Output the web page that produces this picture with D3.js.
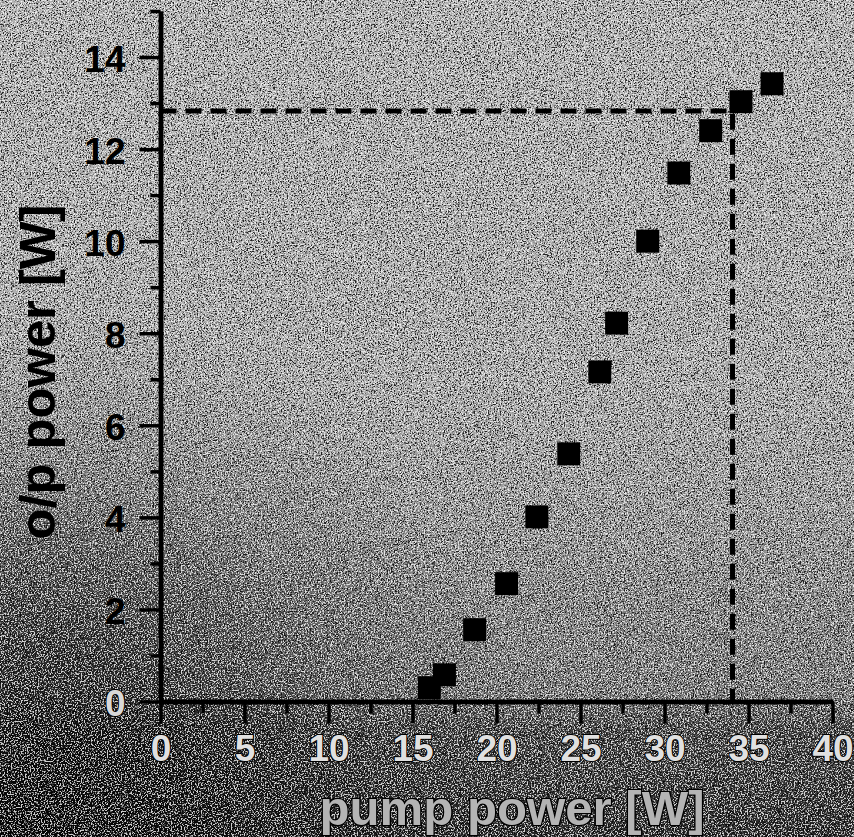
<!DOCTYPE html>
<html>
<head>
<script src="https://cdn.jsdelivr.net/npm/d3@7"></script>
<style>
  body { margin: 0; background: #999; }
  svg text { font-family: "Liberation Sans", Arial, sans-serif; font-weight: bold; }
</style>
</head>
<body>
<script>
// values
const pumpPower  = [16.0, 16.9, 18.7, 20.6, 22.4, 24.3, 26.15, 27.15, 29.0, 30.85, 32.75, 34.55, 36.4];
const outputPower = [0.30, 0.58, 1.56, 2.56, 4.01, 5.38, 7.16, 8.22, 10.0, 11.48, 12.4, 13.03, 13.42];
const xMajor = [0, 5, 10, 15, 20, 25, 30, 35, 40];
const xMinor = [2.5, 7.5, 12.5, 17.5, 22.5, 27.5, 32.5, 37.5];
const yMajor = [0, 2, 4, 6, 8, 10, 12, 14];
const yMinor = [1, 3, 5, 7, 9, 11, 13, 15];
const markX = 34.05;   // dashed guide, pump power
const markY = 12.83;   // dashed guide, o/p power

const W = 854, H = 837;
const svg = d3.select("body").append("svg").attr("width", W).attr("height", H);
const defs = svg.append("defs");

// scanned-paper look: tone gradient, dark corner, speckle
const g1 = defs.append("linearGradient").attr("id", "tone").attr("x1", 0).attr("y1", 0).attr("x2", 0).attr("y2", 1);
[[0, "#b4b4b4"], [0.45, "#acacac"], [0.6, "#9a9a9a"], [0.72, "#828282"], [0.83, "#747474"], [0.87, "#404040"], [1, "#242424"]]
  .forEach(([o, c]) => g1.append("stop").attr("offset", o).attr("stop-color", c));
const g2 = defs.append("radialGradient").attr("id", "corner")
  .attr("gradientUnits", "userSpaceOnUse").attr("cx", 0).attr("cy", H).attr("r", 540);
[[0, 0.9], [0.35, 0.65], [0.7, 0.2], [1, 0]]
  .forEach(([o, a]) => g2.append("stop").attr("offset", o).attr("stop-color", "#000").attr("stop-opacity", a));

const fDark = defs.append("filter").attr("id", "speckDark").attr("x", 0).attr("y", 0).attr("width", "100%").attr("height", "100%");
fDark.append("feTurbulence").attr("type", "fractalNoise").attr("baseFrequency", 0.7).attr("numOctaves", 2).attr("seed", 4);
fDark.append("feColorMatrix").attr("type", "matrix")
  .attr("values", "0 0 0 0 0  0 0 0 0 0  0 0 0 0 0  -7 0 0 0 3.5");
const fLight = defs.append("filter").attr("id", "speckLight").attr("x", 0).attr("y", 0).attr("width", "100%").attr("height", "100%");
fLight.append("feTurbulence").attr("type", "fractalNoise").attr("baseFrequency", 0.7).attr("numOctaves", 2).attr("seed", 9);
fLight.append("feColorMatrix").attr("type", "matrix")
  .attr("values", "0 0 0 0 1  0 0 0 0 1  0 0 0 0 1  7 0 0 0 -3.5");

svg.append("rect").attr("width", W).attr("height", H).attr("fill", "url(#tone)");
svg.append("rect").attr("width", W).attr("height", H).attr("fill", "url(#corner)");
svg.append("rect").attr("width", W).attr("height", H).attr("filter", "url(#speckDark)").attr("opacity", 0.8);
svg.append("rect").attr("width", W).attr("height", H).attr("filter", "url(#speckLight)").attr("opacity", 0.8);

const x = d3.scaleLinear().domain([0, 40]).range([160.5, 832.5]);
const y = d3.scaleLinear().domain([0, 15]).range([701.5, 11]);

// dashed guide lines
svg.append("path")
  .attr("d", `M${x(0)},${y(markY)}H${x(markX)}V${y(0)}`)
  .attr("fill", "none").attr("stroke", "#000").attr("stroke-width", 5)
  .attr("stroke-dasharray", "16 9");

// axes
function styleAxis(g) {
  g.selectAll(".domain").attr("stroke", "#000").attr("stroke-width", 4.5);
  g.selectAll(".tick line").attr("stroke", "#000").attr("stroke-width", 3.5);
}
svg.append("g").attr("transform", `translate(${x(0)},0)`)
  .call(d3.axisLeft(y).tickValues(yMinor).tickSize(10).tickSizeOuter(0).tickFormat(""))
  .call(styleAxis);
const yAx = svg.append("g").attr("transform", `translate(${x(0)},0)`)
  .call(d3.axisLeft(y).tickValues(yMajor).tickSize(21).tickSizeOuter(0).tickPadding(14))
  .call(styleAxis);
yAx.selectAll("text").attr("font-size", 37).attr("fill", "#000").attr("dy", "0.38em");
yAx.selectAll("text").filter(d => d === 0)
  .attr("fill", "#d8d8d8").attr("stroke", "#000").attr("stroke-width", 2).attr("paint-order", "stroke");

svg.append("g").attr("transform", `translate(0,${y(0)})`)
  .call(d3.axisBottom(x).tickValues(xMinor).tickSize(12).tickSizeOuter(0).tickFormat(""))
  .call(styleAxis);
const xAx = svg.append("g").attr("transform", `translate(0,${y(0)})`)
  .call(d3.axisBottom(x).tickValues(xMajor).tickSize(22).tickSizeOuter(0).tickPadding(11))
  .call(styleAxis);
xAx.selectAll("text").attr("font-size", 37).attr("fill", "#e0e0e0")
  .attr("stroke", "#000").attr("stroke-width", 2).attr("paint-order", "stroke");

// markers
svg.append("g").selectAll("rect")
  .data(pumpPower.map((p, i) => [p, outputPower[i]]))
  .join("rect")
  .attr("x", d => x(d[0]) - 11.5).attr("y", d => y(d[1]) - 11.5)
  .attr("width", 23).attr("height", 23).attr("fill", "#000");

// axis titles
svg.append("text")
  .attr("transform", `translate(55,372) rotate(-90)`)
  .attr("text-anchor", "middle").attr("font-size", 50)
  .attr("textLength", 335).attr("lengthAdjust", "spacingAndGlyphs")
  .attr("fill", "#000").text("o/p power [W]");
svg.append("text")
  .attr("x", 512).attr("y", 825)
  .attr("text-anchor", "middle").attr("font-size", 48)
  .attr("textLength", 385).attr("lengthAdjust", "spacingAndGlyphs")
  .attr("fill", "#b4b4b4").attr("stroke", "#000").attr("stroke-width", 2.5).attr("paint-order", "stroke")
  .text("pump power [W]");
</script>
</body>
</html>
